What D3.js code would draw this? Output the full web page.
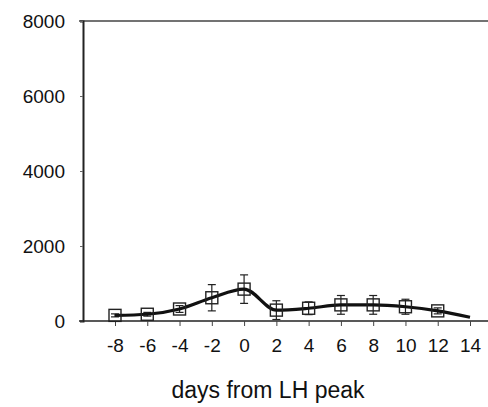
<!DOCTYPE html>
<html>
<head>
<meta charset="UTF-8">
<script src="https://d3js.org/d3.v7.min.js"></script>
<style>
  body { margin: 0; background: #fff; }
  text { font-family: "Liberation Sans", Arial, sans-serif; fill: #111; }
</style>
</head>
<body>
<svg id="chart" width="488" height="407"></svg>
<script>
// days from LH peak, mean value, error
let days = [-8, -6, -4, -2, 0, 2, 4, 6, 8, 10, 12, 14];
let means = [150, 180, 320, 620, 850, 290, 340, 430, 430, 380, 270, 100];
let errs = [40, 50, 90, 350, 380, 250, 170, 250, 250, 200, 80, 0];
let xTicks = [-8, -6, -4, -2, 0, 2, 4, 6, 8, 10, 12, 14];
let yTicks = [0, 2000, 4000, 6000, 8000];

let svg = d3.select("#chart");
let mLeft = 83, mTop = 21, mRight = 488, mBottom = 321;

let x = d3.scaleLinear().domain([-8, 14]).range([115, 470]);
let y = d3.scaleLinear().domain([0, 8000]).range([mBottom, mTop]);

// frame top line
svg.append("line").attr("x1", mLeft - 4).attr("x2", mRight).attr("y1", mTop).attr("y2", mTop)
  .attr("stroke", "#444").attr("stroke-width", 1.5);

// y axis
let yAxis = svg.append("g").attr("transform", "translate(" + mLeft + ",0)")
  .call(d3.axisLeft(y).tickValues(yTicks).tickSize(3).tickPadding(15).tickFormat(function(d) { return String(d); }));
yAxis.select(".domain").attr("stroke", "#222").attr("stroke-width", 2);
yAxis.selectAll(".tick line").attr("stroke", "#666");
yAxis.selectAll("text").style("font-size", "19px");

// x axis
let xAxis = svg.append("g").attr("transform", "translate(0," + mBottom + ")")
  .call(d3.axisBottom(x).tickValues(xTicks).tickSize(5).tickPadding(13).tickFormat(function(d) { return String(d); }));
xAxis.select(".domain").attr("d", "M" + (mLeft - 4) + ",0H" + mRight).attr("stroke", "#222").attr("stroke-width", 1.5);
xAxis.selectAll(".tick line").attr("stroke", "#444");
xAxis.selectAll("text").style("font-size", "19px");

svg.append("text").attr("x", 268).attr("y", 398).attr("text-anchor", "middle")
  .style("font-size", "23px").text("days from LH peak");

let pts = days.map(function(d, i) { return { day: d, m: means[i], e: errs[i] }; });

// error bars
let eb = svg.append("g").attr("stroke", "#222").attr("stroke-width", 1.2);
pts.filter(function(p) { return p.e > 0; }).forEach(function(p) {
  let cx = x(p.day);
  eb.append("line").attr("x1", cx).attr("x2", cx).attr("y1", y(p.m + p.e)).attr("y2", y(p.m - p.e));
  eb.append("line").attr("x1", cx - 4).attr("x2", cx + 4).attr("y1", y(p.m + p.e)).attr("y2", y(p.m + p.e));
  eb.append("line").attr("x1", cx - 4).attr("x2", cx + 4).attr("y1", y(p.m - p.e)).attr("y2", y(p.m - p.e));
});

// line
let line = d3.line().x(function(p) { return x(p.day); }).y(function(p) { return y(p.m); })
  .curve(d3.curveMonotoneX);
svg.append("path").datum(pts).attr("d", line).attr("fill", "none")
  .attr("stroke", "#111").attr("stroke-width", 3.2);

// square markers
svg.append("g").selectAll("rect").data(pts.slice(0, 11)).enter().append("rect")
  .attr("x", function(p) { return x(p.day) - 6; })
  .attr("y", function(p) { return y(p.m) - 6; })
  .attr("width", 12).attr("height", 12)
  .attr("fill", "none").attr("stroke", "#222").attr("stroke-width", 1.4);
</script>
</body>
</html>
